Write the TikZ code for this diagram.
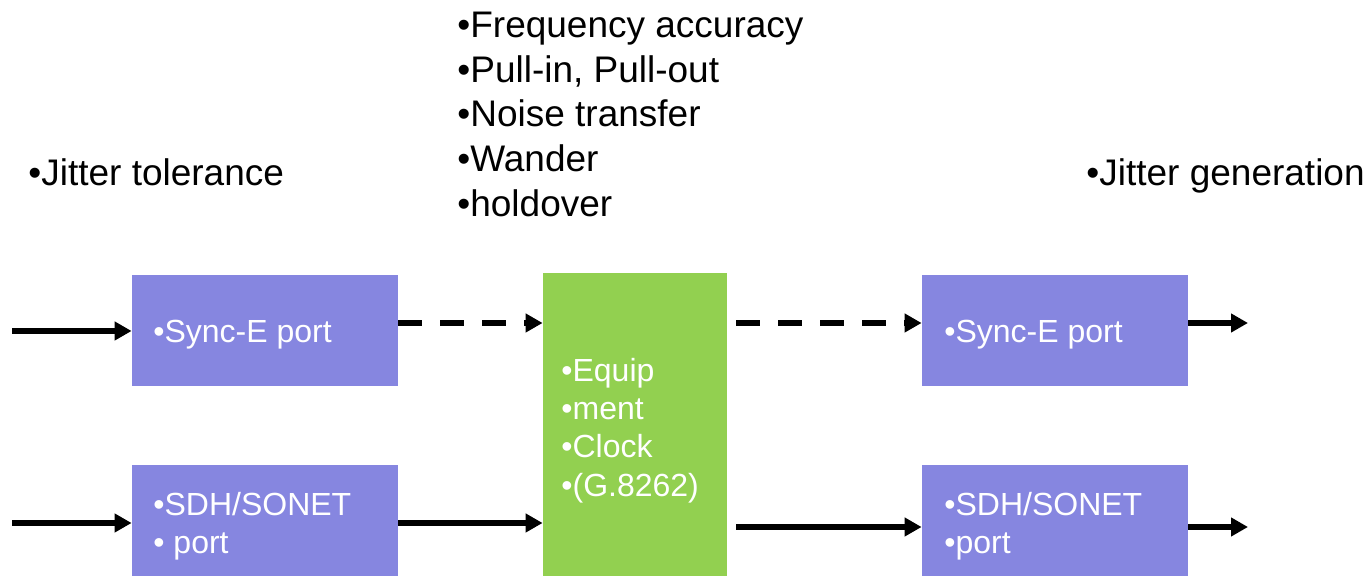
\documentclass[tikz,border=0pt]{standalone}
\usepackage{fontspec}
\setmainfont{Liberation Sans}
\usetikzlibrary{arrows.meta}
\definecolor{portblue}{RGB}{134,134,224}
\definecolor{clockgreen}{RGB}{146,208,80}
\begin{document}
\begin{tikzpicture}[x=0.5pt,y=-0.5pt,
  port/.style={fill=portblue, draw=none, minimum width=133pt, minimum height=55.5pt, inner sep=0pt},
  clockbox/.style={fill=clockgreen, draw=none, minimum width=92pt, minimum height=151.5pt, inner sep=0pt},
  big/.style={font=\fontsize{18.5pt}{22.5pt}\selectfont, inner sep=0pt, anchor=base west},
  intext/.style={font=\fontsize{16pt}{19pt}\selectfont, text=white, inner sep=0pt, anchor=base west},
  link/.style={line width=2.8pt, -{Triangle[length=8.5pt,width=9pt]}},
  dlink/.style={link, dash pattern=on 12pt off 9pt},
]
\useasboundingbox (0,0) rectangle (1372,576);

% boxes
\node[port] (sync1) at (265,330.5) {};
\node[port] (sdh1) at (265,520.5) {};
\node[clockbox] (clock) at (635,424.5) {};
\node[port] (sync2) at (1055,330.5) {};
\node[port] (sdh2) at (1055,520.5) {};

% box texts
\node[intext] (t-sync1) at (153,343) {•Sync-E port};
\node[intext] (t-sdh1a) at (153,516) {•SDH/SONET};
\node[intext] (t-sdh1b) at (153,554) {• port};
\node[intext] (t-sync2) at (944,343) {•Sync-E port};
\node[intext] (t-sdh2a) at (944,516) {•SDH/SONET};
\node[intext] (t-sdh2b) at (944,554) {•port};
\node[intext] (t-clk1) at (561,382) {•Equip};
\node[intext] (t-clk2) at (561,420) {•ment};
\node[intext] (t-clk3) at (561,458) {•Clock};
\node[intext] (t-clk4) at (561,497) {•(G.8262)};

% outer labels
\node[big] (l1) at (457,37.5) {•Frequency accuracy};
\node[big] (l2) at (457,82.2) {•Pull-in, Pull-out};
\node[big] (l3) at (457,126.9) {•Noise transfer};
\node[big] (l4) at (457,171.6) {•Wander};
\node[big] (l5) at (457,216.3) {•holdover};
\node[big] (jtol) at (28,186) {•Jitter tolerance};
\node[big] (jgen) at (1086,186) {•Jitter generation};

% free ends
\coordinate (in1) at (12,331);
\coordinate (in2) at (12,523);
\coordinate (out1) at (1248,323);
\coordinate (out2) at (1248,527);

% connectors
\draw[link] (in1) -- (in1 -| sync1.west);
\draw[link] (in2) -- (in2 -| sdh1.west);
\draw[dlink] ([yshift=3.75pt]sync1.east) -- ([yshift=3.75pt]sync1.east -| clock.west);
\draw[link] ([yshift=-1.25pt]sdh1.east) -- ([yshift=-1.25pt]sdh1.east -| clock.west);
\draw[dlink] ([xshift=4.5pt,yshift=3.75pt]sync2.west -| clock.east) -- ([yshift=3.75pt]sync2.west);
\draw[link] ([xshift=4.5pt,yshift=-3.25pt]sdh2.west -| clock.east) -- ([yshift=-3.25pt]sdh2.west);
\draw[link] (out1 -| sync2.east) -- (out1);
\draw[link] (out2 -| sdh2.east) -- (out2);
\end{tikzpicture}
\end{document}
